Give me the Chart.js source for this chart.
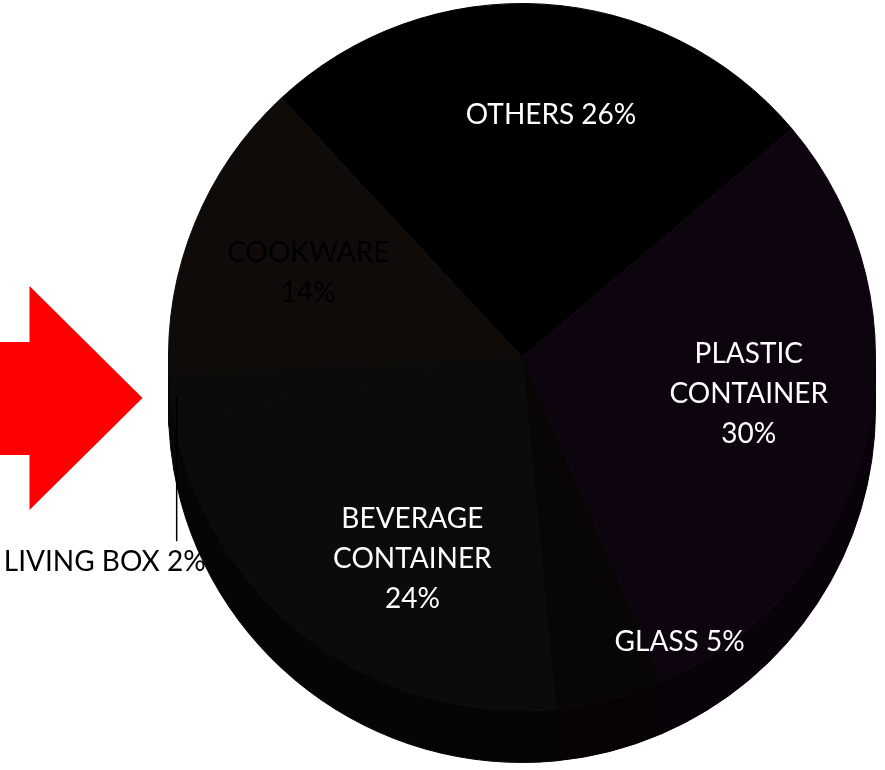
<!DOCTYPE html>
<html>
<head>
<meta charset="utf-8">
<title>Waste composition</title>
<script src="https://cdn.jsdelivr.net/npm/chart.js@4.4.1/dist/chart.umd.min.js"></script>
<style>
  html, body { margin: 0; padding: 0; background: #ffffff; }
  #wrap { position: relative; width: 885px; height: 770px; }
</style>
</head>
<body>
<div id="wrap"><canvas id="pie" width="885" height="770"></canvas></div>
<script>
// ---- data ----
const categories = ['OTHERS', 'PLASTIC CONTAINER', 'GLASS', 'BEVERAGE CONTAINER', 'LIVING BOX', 'COOKWARE'];
const categoryLines = [['OTHERS'], ['PLASTIC', 'CONTAINER'], ['GLASS'], ['BEVERAGE', 'CONTAINER'], ['LIVING BOX'], ['COOKWARE']];
const shares = [26, 30, 5, 24, 2, 14];

// ---- styling ----
const topColors  = ['#000000', '#0d040f', '#080507', '#0a0b0a', '#0b0b0a', '#0e0b09'];
const sideColors = ['#000000', '#09020b', '#070305', '#050505', '#070707', '#090706'];
const DEPTH = 52;
const FONT = '28px Lato, "Open Sans", sans-serif';
const LINE_H = 40;

// label placement: angle shift (deg) from slice middle, radius fraction, value inline?, text colour
const labelLayout = [
  { shift: 3.4,   rf: 0.69, inline: true,  color: '#ffffff' },
  { shift: -4.0,  rf: 0.65, inline: false, color: '#ffffff' },
  { shift: -14.6, rf: 0.92, inline: true,  color: '#ffffff' },
  { shift: -8.8,  rf: 0.65, inline: false, color: '#ffffff' },
  { outside: true, inline: true, color: '#000000' },
  { shift: -0.6,  rf: 0.65, inline: false, color: '#000000' }
];

function labelText(i) {
  const lines = categoryLines[i].slice();
  const v = shares[i] + '%';
  if (labelLayout[i].inline) lines[lines.length - 1] += ' ' + v;
  else lines.push(v);
  return lines;
}

// red pointer arrow to the left of the pie
const arrowPlugin = {
  id: 'arrow',
  beforeDraw(chart) {
    const ctx = chart.ctx;
    const arc = chart.getDatasetMeta(0).data[0];
    const cx = arc.x, cy = arc.y, r = arc.outerRadius;
    const tipX = cx - r - 26, tipY = cy + 41;
    ctx.save();
    ctx.fillStyle = '#ff0000';
    ctx.beginPath();
    ctx.moveTo(0, tipY - 56);
    ctx.lineTo(tipX - 113, tipY - 56);
    ctx.lineTo(tipX - 113, tipY - 112);
    ctx.lineTo(tipX, tipY);
    ctx.lineTo(tipX - 113, tipY + 112);
    ctx.lineTo(tipX - 113, tipY + 57);
    ctx.lineTo(0, tipY + 57);
    ctx.closePath();
    ctx.fill();
    ctx.restore();
  }
};

// side wall of the disc, seen below the front half
const depthPlugin = {
  id: 'depth',
  beforeDatasetsDraw(chart) {
    const ctx = chart.ctx;
    const arcs = chart.getDatasetMeta(0).data;
    ctx.save();
    arcs.forEach((a, i) => {
      const a0 = Math.max(a.startAngle, 0);
      const a1 = Math.min(a.endAngle, Math.PI);
      if (a1 <= a0) return;
      const r = a.outerRadius;
      ctx.fillStyle = sideColors[i];
      ctx.strokeStyle = sideColors[i];
      ctx.lineWidth = 1;
      ctx.beginPath();
      ctx.arc(a.x, a.y, r, a0, a1);
      ctx.lineTo(a.x + r * Math.cos(a1), a.y + DEPTH + r * Math.sin(a1));
      ctx.arc(a.x, a.y + DEPTH, r, a1, a0, true);
      ctx.closePath();
      ctx.fill();
      ctx.stroke();
    });
    ctx.restore();
  }
};

// slice labels
const labelPlugin = {
  id: 'sliceLabels',
  afterDatasetsDraw(chart) {
    const ctx = chart.ctx;
    const arcs = chart.getDatasetMeta(0).data;
    ctx.save();
    ctx.font = FONT;
    ctx.textAlign = 'center';
    ctx.textBaseline = 'middle';
    arcs.forEach((a, i) => {
      const lay = labelLayout[i];
      const lines = labelText(i);
      const mid = (a.startAngle + a.endAngle) / 2;
      ctx.fillStyle = lay.color;
      if (lay.outside) {
        const ex = a.x + a.outerRadius * Math.cos(mid);
        const ey = a.y + a.outerRadius * Math.sin(mid);
        const lx = ex + 6;
        const bottom = ey + 145;
        ctx.strokeStyle = '#000000';
        ctx.lineWidth = 1.5;
        ctx.beginPath();
        ctx.moveTo(lx, ey);
        ctx.lineTo(lx, bottom);
        ctx.stroke();
        ctx.fillText(lines[0], lx - 72, bottom + 21);
        return;
      }
      const ang = mid + lay.shift * Math.PI / 180;
      const px = a.x + a.outerRadius * lay.rf * Math.cos(ang);
      const py = a.y + a.outerRadius * lay.rf * Math.sin(ang);
      const y0 = py - (lines.length - 1) * LINE_H / 2;
      lines.forEach((t, k) => ctx.fillText(t, px, y0 + k * LINE_H));
    });
    ctx.restore();
  }
};

new Chart(document.getElementById('pie'), {
  type: 'pie',
  data: {
    labels: categories,
    datasets: [{
      data: shares,
      backgroundColor: topColors,
      borderColor: topColors,
      borderWidth: 1
    }]
  },
  options: {
    responsive: false,
    devicePixelRatio: 1,
    animation: false,
    rotation: -42.9,
    layout: { padding: { left: 168, right: 9, top: 3, bottom: 59 } },
    plugins: {
      legend: { display: false },
      tooltip: { enabled: false }
    },
    events: []
  },
  plugins: [arrowPlugin, depthPlugin, labelPlugin]
});
</script>
</body>
</html>
